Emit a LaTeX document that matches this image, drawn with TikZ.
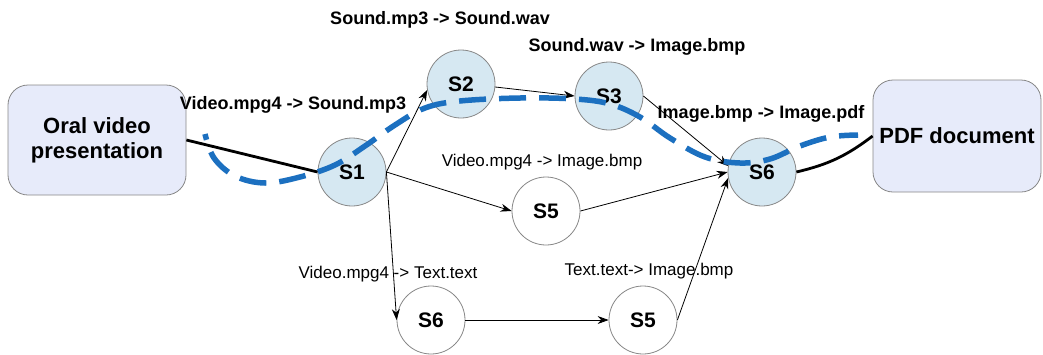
\documentclass[tikz,border=0pt]{standalone}
\usepackage{fontspec}
\setmainfont{Liberation Sans}
\usetikzlibrary{arrows.meta}
\definecolor{nodeblue}{RGB}{214,232,242}
\definecolor{boxblue}{RGB}{231,235,250}
\definecolor{pathblue}{RGB}{28,112,192}
\definecolor{edgegrey}{RGB}{135,135,135}
\begin{document}
\begin{tikzpicture}[x=1pt,y=-1pt,
  state/.style={circle, draw=edgegrey, line width=0.8pt, minimum size=68pt,
    inner sep=0pt, font=\fontsize{21}{21}\selectfont\bfseries},
  active/.style={state, fill=nodeblue},
  idle/.style={state, fill=white},
  endbox/.style={rectangle, rounded corners=20pt, draw=edgegrey, fill=boxblue,
    line width=0.8pt, align=center, inner sep=0pt,
    font=\fontsize{22}{25}\selectfont\bfseries},
  boldlabel/.style={anchor=base, inner sep=0pt, font=\fontsize{18}{18}\selectfont\bfseries},
  plainlabel/.style={anchor=base, inner sep=0pt, font=\fontsize{17}{17}\selectfont},
  arr/.style={-{Stealth[length=11pt,width=8pt]}, line width=0.8pt},
  link/.style={line width=2.8pt},
  route/.style={pathblue, line width=5.5pt, dash pattern=on 27pt off 13pt, dash phase=21pt}
]
\useasboundingbox (0,0) rectangle (1043,354);

% end points of the workflow
\node[endbox, minimum width=178pt, minimum height=110pt] (oral) at (97,140) {Oral video\\presentation};
\node[endbox, minimum width=168pt, minimum height=112pt] (pdf) at (957,136) {PDF document};

% services
\node[active] (s1) at (352,172) {S1};
\node[active] (s2) at (461,84) {S2};
\node[active] (s3) at (609,96) {S3};
\node[active] (s6) at (762,172) {S6};
\node[idle] (s5a) at (546,211) {S5};
\node[idle] (s6b) at (431,320) {S6};
\node[idle] (s5b) at (643,320) {S5};

% conversions
\node[boldlabel] (l12) at (440,24) {Sound.mp3 -> Sound.wav};
\node[boldlabel] (l23) at (637,51) {Sound.wav -> Image.bmp};
\node[boldlabel] (l01) at (293,109) {Video.mpg4 -> Sound.mp3};
\node[boldlabel] (l36) at (761,118) {Image.bmp -> Image.pdf};
\node[plainlabel] (l15) at (542,166) {Video.mpg4 -> Image.bmp};
\node[plainlabel] (l16) at (388,278) {Video.mpg4 -> Text.text};
\node[plainlabel] (l55) at (649,275) {Text.text-> Image.bmp};

% input and output links
\draw[link] (oral.east) -- (s1.west);
\draw[link] (s6.east) to[bend right=12] (pdf.west);

% alternative service chains
\draw[arr] (s1.east) -- (s2.190);
\draw[arr] (s1.east) -- (s5a.west);
\draw[arr] (s1.east) -- (s6b.west);
\draw[arr] (s2.355) -- (s3.west);
\draw[arr] (s3.east) -- (s6.170);
\draw[arr] (s5a.east) -- (s6.west);
\draw[arr] (s6b.east) -- (s5b.west);
\draw[arr] (s5b.east) -- (s6.190);

% selected composition
\coordinate (routestart) at (205,134);
\coordinate (routeend) at (858,135);
\draw[route] plot[smooth, tension=0.6] coordinates {(routestart) (214,158) (235,176) (265,183)
  (300,177) (335,165) (365,146) (395,125) (425,108) (460,101) (520,98) (575,99) (610,104)
  (640,117) (670,138) (705,157) (740,163) (770,159) (800,146) (830,137) (routeend)};
\end{tikzpicture}
\end{document}
